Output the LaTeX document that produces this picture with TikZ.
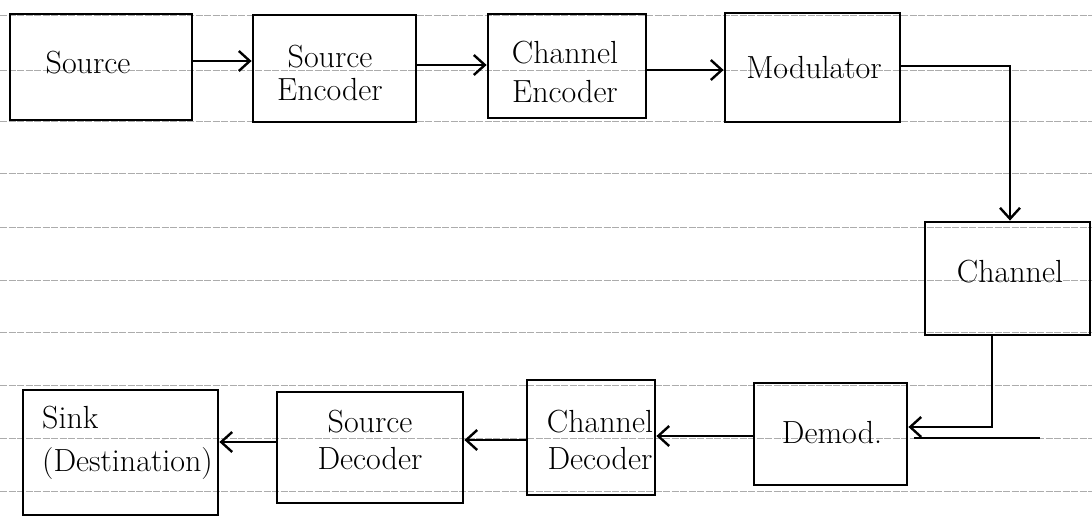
\documentclass[tikz,border=0pt]{standalone}
\usepackage{fontspec}
\usetikzlibrary{arrows.meta}
\begin{document}
\begin{tikzpicture}[x=1pt,y=-1pt,
  ruled/.style={gray!65, line width=0.9pt, dash pattern=on 7pt off 1.5pt},
  blk/.style={draw, line width=2.8pt, inner sep=0pt},
  lbl/.style={font=\fontsize{32}{37}\selectfont, align=center, inner sep=0pt},
  conn/.style={line width=2.4pt, -{Straight Barb[length=11pt,width=20pt,line width=2.4pt]}},
  wire/.style={line width=2.4pt}]
\fill[white] (0,0) rectangle (1092,528);
\useasboundingbox (0,0) rectangle (1092,528);
% ruled paper lines
\foreach \yy in {15,70,121,173,227,280,332,385,438,491}
  \draw[ruled] (0,\yy) -- (1092,\yy);
% blocks
\node[blk, minimum width=182pt, minimum height=106pt] (src)   at (101,67) {};
\node[blk, minimum width=163pt, minimum height=107pt] (senc)  at (334.5,68.5) {};
\node[blk, minimum width=158pt, minimum height=104pt] (cenc)  at (567,66) {};
\node[blk, minimum width=175pt, minimum height=109pt] (mod)   at (812.5,67.5) {};
\node[blk, minimum width=165pt, minimum height=113pt] (chan)  at (1007.5,278.5) {};
\node[blk, minimum width=153pt, minimum height=102pt] (demod) at (830.5,434) {};
\node[blk, minimum width=128pt, minimum height=115pt] (cdec)  at (591,437.5) {};
\node[blk, minimum width=186pt, minimum height=111pt] (sdec)  at (370,447.5) {};
\node[blk, minimum width=195pt, minimum height=125pt] (sink)  at (120.5,452.5) {};
% labels
\node[lbl] (srcT)   at (88,63)   {Source};
\node[lbl] (sencT)  at (330,73)  {Source\\[-4pt]Encoder};
\node[lbl] (cencT)  at (565,72)  {Channel\\[2pt]Encoder};
\node[lbl] (modT)   at (814,68)  {Modulator};
\node[lbl] (chanT)  at (1010,272) {Channel};
\node[lbl] (demodT) at (832,433) {Demod.};
\node[lbl] (cdecT)  at (600,440) {Channel\\Decoder};
\node[lbl] (sdecT)  at (370,440) {Source\\Decoder};
\node[lbl, align=left, anchor=west] (sinkT) at (42,443) {Sink\\[6pt](Destination)};
% connectors
\draw[conn] (src.east |- 0,61)  -- (senc.west |- 0,61);
\draw[conn] (senc.east |- 0,65) -- (cenc.west |- 0,65);
\draw[conn] (cenc.east |- 0,70) -- (mod.west |- 0,70);
\draw[conn] (mod.east |- 0,66) -| (chan.north -| 1010,0);
\draw[conn] (chan.south -| 992,0) |- (demod.east |- 0,427);
\draw[conn] (demod.west |- 0,436) -- (cdec.east |- 0,436);
\draw[conn] (cdec.west |- 0,440) -- (sdec.east |- 0,440);
\draw[conn] (sdec.west |- 0,442) -- (sink.east |- 0,442);
\coordinate (tailR) at (1040,438);
\draw[wire] (demod.east |- 0,438) ++(6,0) -- (tailR);
\end{tikzpicture}
\end{document}
